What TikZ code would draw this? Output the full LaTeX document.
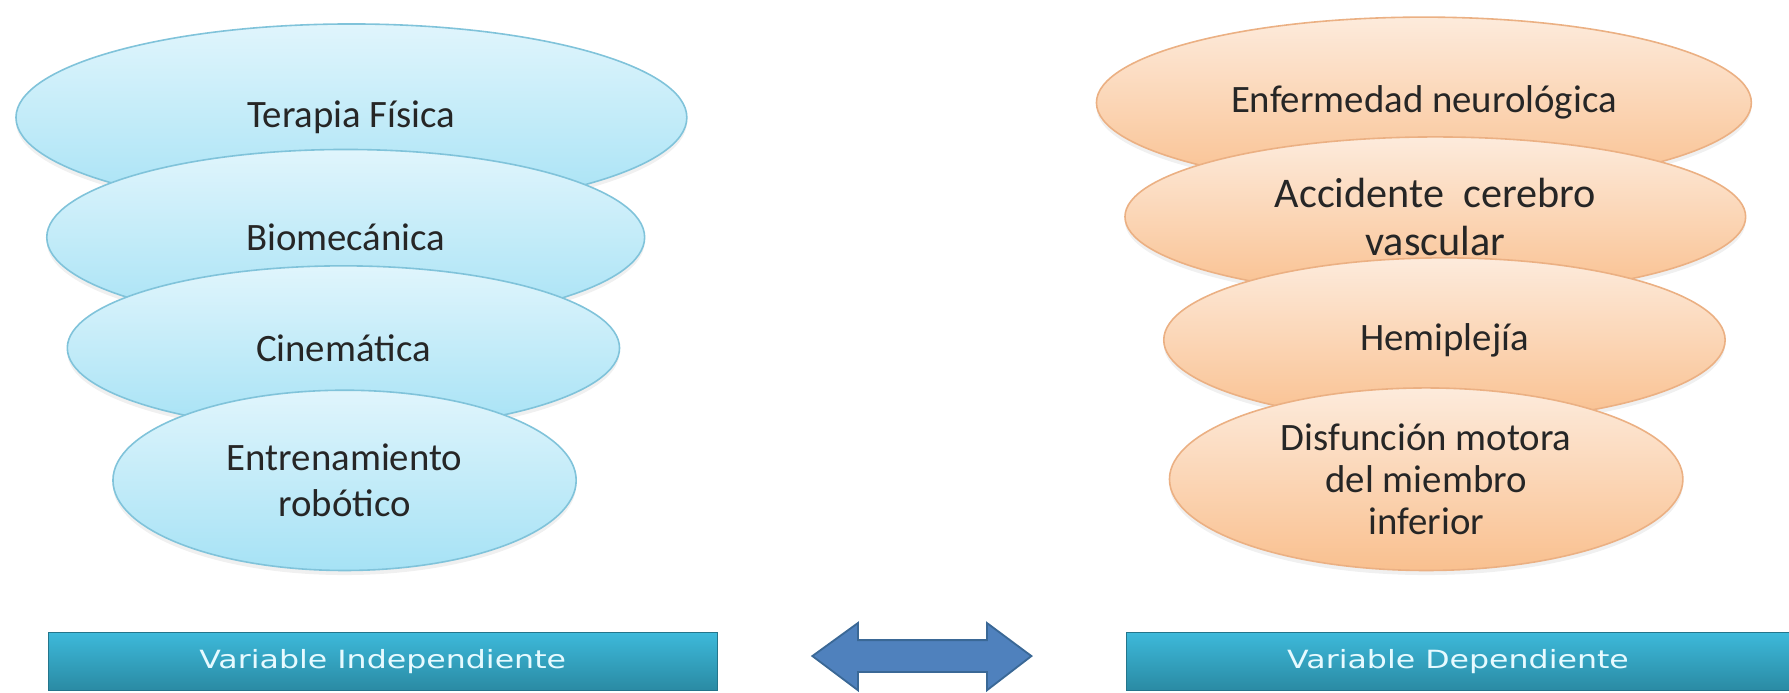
\documentclass[tikz,border=0pt]{standalone}
\usepackage{fontspec}
\usepackage{graphicx}
\setmainfont{Carlito}
\newfontfamily\boxfont{DejaVu Sans}
\usetikzlibrary{shapes.geometric,shadows}
\definecolor{bluetop}{HTML}{E0F5FC}
\definecolor{bluebot}{HTML}{A6E2F5}
\definecolor{blueline}{HTML}{80C3DA}
\definecolor{orgtop}{HTML}{FDEBDC}
\definecolor{orgbot}{HTML}{F9C08F}
\definecolor{orgline}{HTML}{EBB083}
\definecolor{boxtop}{HTML}{3DB9DA}
\definecolor{boxbot}{HTML}{2A8AA3}
\definecolor{boxtext}{HTML}{E6FAFF}
\definecolor{arrowfill}{HTML}{4F81BD}
\definecolor{arrowline}{HTML}{3A6896}
\definecolor{textdark}{HTML}{262626}
\begin{document}
\begin{tikzpicture}[x=0.5pt,y=-0.5pt,
  ellbase/.style={ellipse, line width=0.7pt, inner sep=0pt, align=center,
    font=\fontsize{17}{20}\selectfont, text=textdark,
    drop shadow={opacity=0.12, shadow xshift=0pt, shadow yshift=-2pt}},
  blueell/.style={ellbase, draw=blueline, top color=bluetop, bottom color=bluebot},
  orgell/.style={ellbase, draw=orgline, top color=orgtop, bottom color=orgbot},
  varbox/.style={rectangle, anchor=north west, inner sep=0pt, top color=boxtop,
    bottom color=boxbot, draw=boxbot!85!black, line width=0.4pt, text=boxtext,
    font=\boxfont\fontsize{11}{13}\selectfont},
  arrowshape/.style={fill=arrowfill, draw=arrowline, line width=0.8pt, line join=miter}
]
\useasboundingbox (0,0) rectangle (1568,607);
% left stack
\node[blueell, minimum width=294pt, minimum height=82pt] (t1) at (308,103) {Terapia Física};
\node[blueell, minimum width=262pt, minimum height=77pt] (t2) at (303,208) {Biomecánica};
\node[blueell, minimum width=242pt, minimum height=72pt] (t3) at (301,305) {Cinemática};
\node[blueell, minimum width=203pt, minimum height=79pt] (t4) at (302,421) {Entrenamiento\\robótico};
% right stack
\node[orgell, minimum width=287pt, minimum height=75pt] (d1) at (1248,90) {Enfermedad neurológica};
\node[orgell, minimum width=272pt, minimum height=70pt, font=\fontsize{18.5}{21}\selectfont] (d2) at (1258,190) {Accidente\ \ cerebro\\vascular};
\node[orgell, minimum width=246pt, minimum height=72pt] (d3) at (1266,298) {Hemiplejía};
\node[orgell, minimum width=225pt, minimum height=80pt, font=\fontsize{17}{18.5}\selectfont] (d4) at (1250,420) {Disfunción motora\\del miembro\\inferior};
% bottom boxes
\node[varbox, minimum width=293pt, minimum height=25.5pt] (vi) at (42,554) {\raisebox{0.3pt}{\scalebox{1.26}[1]{Variable Independiente}}};
\node[varbox, minimum width=290.5pt, minimum height=25.5pt] (vd) at (987,554) {\raisebox{0.3pt}{\scalebox{1.26}[1]{Variable Dependiente}}};
% double arrow
\path[arrowshape] (712,575) -- (752,546) -- (752,561) -- (865,561) -- (865,546)
  -- (904,575) -- (865,605) -- (865,589) -- (752,589) -- (752,605) -- cycle;
\end{tikzpicture}
\end{document}
